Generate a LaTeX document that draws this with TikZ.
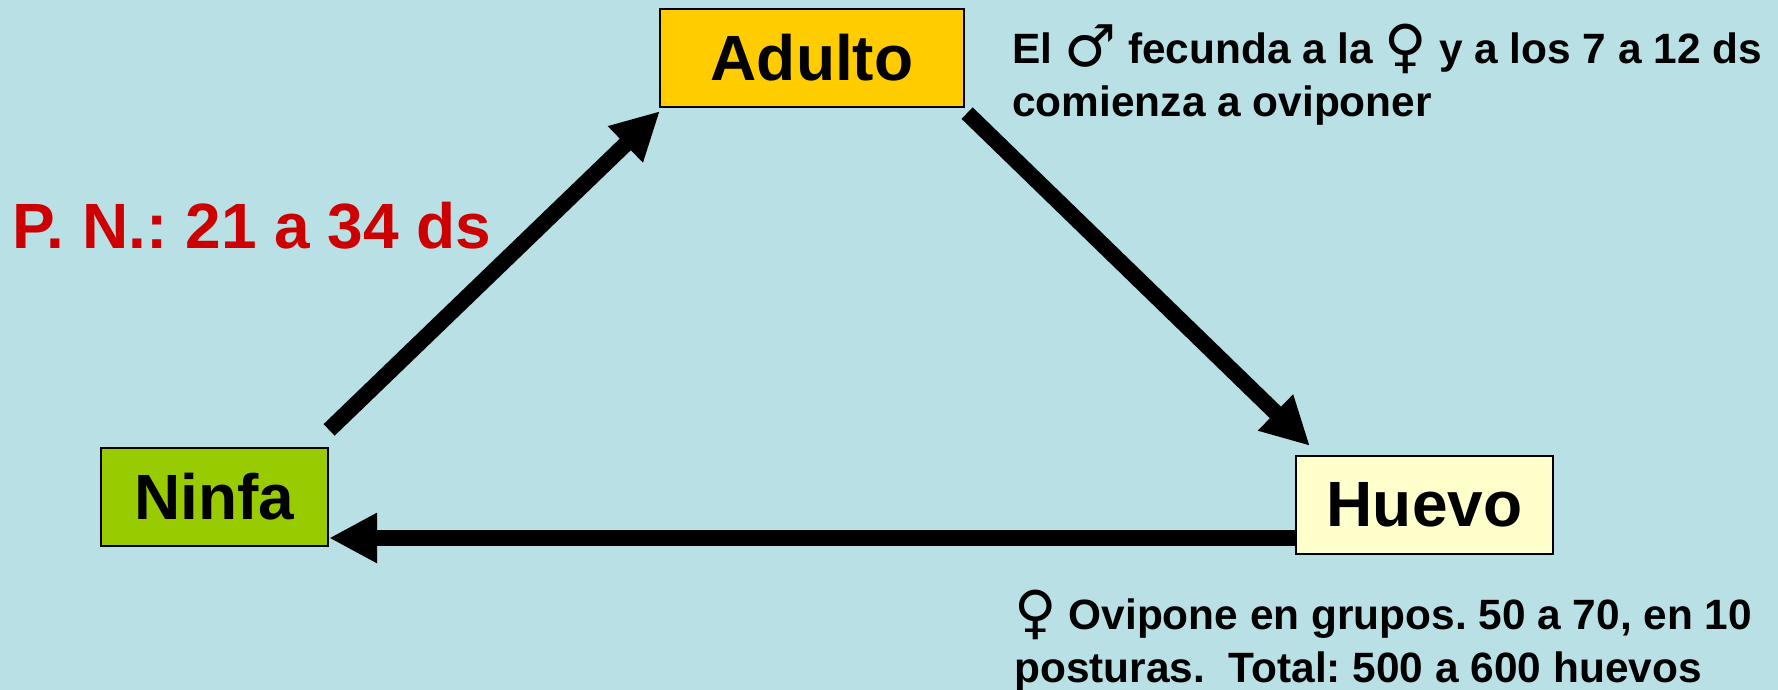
\documentclass[tikz,border=0pt]{standalone}
\usepackage{fontspec}
\setmainfont{Liberation Sans}
\newfontfamily\symf{DejaVu Sans}
\usetikzlibrary{arrows.meta}
\definecolor{bgc}{HTML}{B9E0E4}
\definecolor{adultoc}{HTML}{FFCC00}
\definecolor{ninfac}{HTML}{99CC00}
\definecolor{huevoc}{HTML}{FFFFCC}
\definecolor{redc}{HTML}{CC0000}
\newcommand{\sexsym}[1]{\raisebox{-1.5pt}{\fontsize{29}{29}\selectfont\symf\mdseries #1}}
\frenchspacing
\begin{document}
\begin{tikzpicture}[x=0.5pt,y=-0.5pt,
  stage/.style={draw=black, line width=1.1pt, inner sep=0pt, minimum height=49pt,
    font=\fontsize{32}{38}\selectfont\bfseries},
  cyc/.style={line width=8pt, -{Triangle[length=24pt,width=23.5pt]}},
  note/.style={inner sep=0pt, align=left, anchor=base west,
    font=\fontsize{21.2}{26.5}\selectfont\bfseries}]
\fill[bgc] (0,0) rectangle (1778,690);
\useasboundingbox (0,0) rectangle (1778,690);
\node[stage, fill=adultoc, minimum width=152pt] (adulto) at (812,58) {Adulto};
\node[stage, fill=ninfac, minimum width=113.5pt] (ninfa) at (214.5,497) {Ninfa};
\node[stage, fill=huevoc, minimum width=128.5pt] (huevo) at (1424.5,505) {Huevo};
\draw[cyc] ([shift={(0,-17)}]ninfa.north east) -- ([shift={(1,3)}]adulto.south west);
\draw[cyc] ([shift={(2,5)}]adulto.south east) -- ([shift={(15,-9)}]huevo.north west);
\draw[cyc] ([shift={(0,33)}]huevo.west) -- ([shift={(0,41)}]ninfa.east);
\node[note, text=redc, font=\fontsize{32}{38}\selectfont\bfseries] (pn) at (12,248) {P. N.: 21 a 34 ds};
\node[note] (fecunda) at (1012,117) {El \sexsym{♂} fecunda a la \sexsym{♀} y a los 7 a 12 ds\\comienza a oviponer};
\node[note] (ovipone) at (1014,682) {\sexsym{♀} Ovipone en grupos. 50 a 70, en 10\\posturas.\ \ Total: 500 a 600 huevos};
\end{tikzpicture}
\end{document}
